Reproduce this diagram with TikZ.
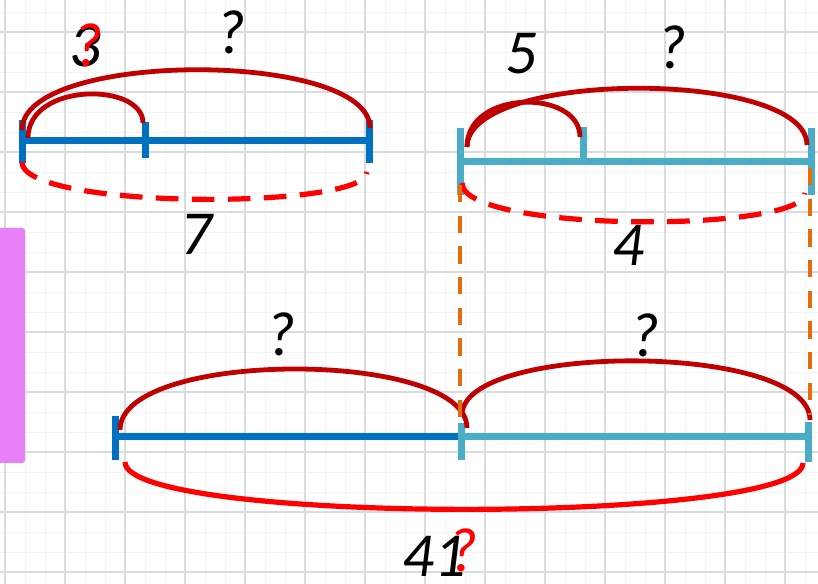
\documentclass[tikz,border=0pt]{standalone}
\usepackage{fontspec}
\newfontfamily\calfont{Carlito}
\definecolor{dblue}{HTML}{0070C0}
\definecolor{lblue}{HTML}{4BACC6}
\definecolor{dred}{HTML}{C00000}
\definecolor{bred}{HTML}{FF0000}
\definecolor{orng}{HTML}{E46C0A}
\definecolor{pinkv}{HTML}{E880F7}
\definecolor{gmaj}{HTML}{D8DCE0}
\definecolor{gmin}{HTML}{F1F3F4}
\begin{document}
\begin{tikzpicture}[x=0.75pt,y=-0.75pt,
  segline/.style={line width=5.25pt},
  arcline/.style={dred,line width=3.6pt},
  dashline/.style={bred,line width=3.9pt,dash pattern=on 17pt off 10pt},
  orline/.style={orng,line width=3pt,dash pattern=on 13pt off 10pt},
  lbl/.style={inner sep=0pt,font=\calfont\itshape\fontsize{47}{50}\selectfont},
  redq/.style={lbl,text=bred}]
\useasboundingbox (0,0) rectangle (818,584);
\fill[white] (0,0) rectangle (818,584);
% grid
\foreach \x in {5,25,...,818} \draw[gmin,line width=0.7pt] (\x,0) -- (\x,584);
\foreach \y in {12,32,...,584} \draw[gmin,line width=0.7pt] (0,\y) -- (818,\y);
\foreach \x in {5,65,...,818} \draw[gmaj,line width=1.6pt] (\x,0) -- (\x,584);
\foreach \y in {32,92,...,584} \draw[gmaj,line width=1.6pt] (0,\y) -- (818,\y);
% pink bar
\fill[pinkv,rounded corners=2pt] (-5,228) rectangle (25,463);

% ---------- top-left segment ----------
\coordinate (tlL) at (22,141);
\coordinate (tlR) at (369,141);
\draw[dblue,segline] (tlL) -- (tlR);
\draw[dblue,segline] (22,120) -- (22,163);
\draw[dblue,segline] (145,122) -- (145,158);
\draw[dblue,segline] (369,120) -- (369,163);
\coordinate (tlA) at (22,130);
\coordinate (tlB) at (370,128);
\draw[arcline] (tlA) .. controls (22,50) and (370,50) .. (tlB);
\coordinate (tlC) at (28,138);
\coordinate (tlD) at (143,123);
\draw[arcline] (tlC) .. controls (28,82) and (143,82) .. (tlD);
\coordinate (tlE) at (22,162);
\coordinate (tlF) at (367,172);
\draw[dashline] (tlE) .. controls (22,210) and (367,210) .. (tlF);

% ---------- top-right segment ----------
\coordinate (trL) at (460,162);
\coordinate (trR) at (811,162);
\draw[lblue,segline] (trL) -- (trR);
\draw[lblue,segline] (460,128) -- (460,195);
\draw[lblue,segline] (583,127) -- (583,163);
\draw[lblue,segline] (811,128) -- (811,195);
\coordinate (trA) at (467,147);
\coordinate (trB) at (807,145);
\draw[arcline] (trA) .. controls (467,69) and (807,69) .. (trB);
\coordinate (trC) at (580,137);
\draw[arcline] (trA) .. controls (467,89) and (580,89) .. (trC);
\coordinate (trE) at (462,183);
\coordinate (trF) at (805,193);
\draw[dashline] (trE) .. controls (462,233) and (805,233) .. (trF);

% ---------- bottom segment ----------
\coordinate (bL) at (115,437);
\coordinate (bM) at (461,437);
\coordinate (bR) at (808,437);
\draw[dblue,segline] (bL) -- (bM);
\draw[lblue,segline] (bM) -- (bR);
\draw[dblue,segline] (115,416) -- (115,460);
\draw[lblue,segline] (461,423) -- (461,460);
\draw[lblue,segline] (808,422) -- (808,462);
\coordinate (bA) at (120,430);
\coordinate (bB) at (467,428);
\draw[arcline] (bA) .. controls (120,349) and (467,349) .. (bB);
\coordinate (bC) at (462,415);
\coordinate (bD) at (810,420);
\draw[arcline] (bC) .. controls (462,342) and (810,342) .. (bD);
\coordinate (bE) at (125,462);
\coordinate (bF) at (803,463);
\draw[bred,line width=3.9pt] (bE) .. controls (125,525) and (803,525) .. (bF);

% orange guides
\coordinate (oL1) at (460,185);
\coordinate (oL2) at (460,428);
\coordinate (oR1) at (810,168);
\coordinate (oR2) at (810,415);
\draw[orline] (oL1) -- (oL2);
\draw[orline] (oR1) -- (oR2);

% labels
\node[lbl] (n3) at (85,46) {3};
\node[redq] (r3) at (88,45) {?};
\node[lbl] (qtl) at (231,32) {?};
\node[lbl] (n7) at (196,234) {7};
\node[lbl] (n5) at (521,54) {5};
\node[lbl] (qtr) at (672,47) {?};
\node[lbl] (n4) at (628,245) {4};
\node[lbl] (qbl) at (281,334) {?};
\node[lbl] (qbr) at (645,335) {?};
\node[lbl] (n41) at (434,556) {41};
\node[redq] (r41) at (463,550) {?};
\end{tikzpicture}
\end{document}
